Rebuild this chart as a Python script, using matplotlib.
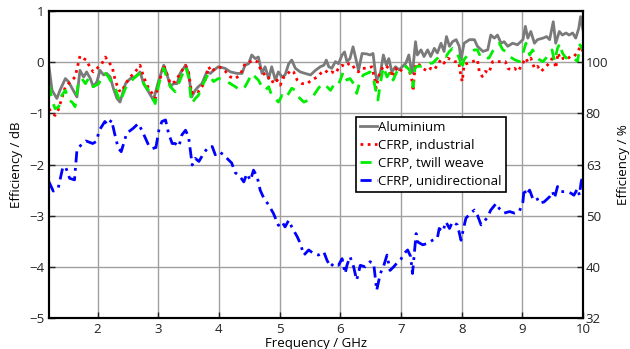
import matplotlib
matplotlib.use("Agg")
import matplotlib.pyplot as plt

plt.rcParams['font.family'] = ['Open Sans', 'DejaVu Sans']
plt.rcParams['axes.unicode_minus'] = True

# Aluminium reference plate
f_alu = [1.20, 1.25, 1.33, 1.38, 1.47, 1.52, 1.58, 1.66, 1.71, 1.77, 1.82, 1.88, 1.93, 1.99,
         2.04, 2.10, 2.15, 2.21, 2.26, 2.32, 2.37, 2.46, 2.54, 2.62, 2.70, 2.76, 2.84, 2.92,
         3.01, 3.09, 3.14, 3.20, 3.25, 3.31, 3.36, 3.45, 3.50, 3.55, 3.61, 3.66, 3.72, 3.80, 3.86, 3.91, 3.99,
         4.10, 4.19, 4.30, 4.38, 4.43, 4.49, 4.54, 4.60, 4.65, 4.71, 4.76, 4.82, 4.87, 4.93, 4.98,
         5.04, 5.09, 5.15, 5.20, 5.26, 5.34, 5.42, 5.51, 5.59, 5.67, 5.73, 5.77, 5.81, 5.86, 5.92, 5.97,
         6.03, 6.07, 6.11, 6.16, 6.21, 6.25, 6.30, 6.36, 6.44, 6.49, 6.54, 6.58, 6.60, 6.66, 6.71, 6.76, 6.80, 6.85, 6.91, 6.97,
         7.03, 7.08, 7.13, 7.16, 7.19, 7.24, 7.27, 7.33, 7.38, 7.44, 7.49, 7.55, 7.60, 7.66, 7.71, 7.75, 7.80, 7.85, 7.91, 7.96, 7.99,
         8.04, 8.13, 8.21, 8.26, 8.35, 8.43, 8.48, 8.54, 8.59, 8.65, 8.70, 8.76, 8.84, 8.92,
         9.01, 9.05, 9.09, 9.14, 9.20, 9.25, 9.34, 9.40, 9.45, 9.51, 9.55, 9.61, 9.66, 9.72, 9.77, 9.83, 9.88, 9.93, 9.96, 10.00]
eff_alu = [-0.09, -0.55, -0.71, -0.55, -0.32, -0.38, -0.51, -0.68, -0.16, -0.29, -0.19, -0.32, -0.48, -0.38,
           -0.16, -0.25, -0.22, -0.29, -0.51, -0.71, -0.78, -0.42, -0.32, -0.29, -0.19, -0.42, -0.58, -0.74,
           -0.35, -0.06, -0.22, -0.48, -0.42, -0.42, -0.22, -0.06, -0.22, -0.68, -0.55, -0.48, -0.42, -0.19, -0.22, -0.16, -0.09,
           -0.12, -0.19, -0.22, -0.22, -0.06, -0.03, 0.14, 0.07, 0.10, -0.22, -0.09, -0.32, -0.09, -0.35, -0.19,
           -0.29, -0.25, -0.03, 0.04, -0.12, -0.19, -0.22, -0.25, -0.16, -0.09, -0.06, 0.04, -0.09, -0.12, 0.01, -0.03,
           0.14, 0.20, 0.01, 0.07, 0.30, 0.10, -0.16, 0.17, 0.16, 0.14, 0.17, -0.22, -0.35, -0.22, 0.14, -0.06, 0.07, -0.19, -0.09, -0.15,
           -0.08, -0.02, 0.14, -0.08, -0.21, 0.40, 0.14, 0.24, 0.11, 0.24, 0.11, 0.27, 0.18, 0.37, 0.21, 0.50, 0.31, 0.40, 0.44, 0.31, 0.05,
           0.37, 0.44, 0.44, 0.31, 0.21, 0.24, 0.53, 0.47, 0.53, 0.37, 0.40, 0.31, 0.37, 0.34,
           0.44, 0.70, 0.47, 0.60, 0.37, 0.44, 0.47, 0.50, 0.44, 0.79, 0.37, 0.60, 0.53, 0.57, 0.53, 0.57, 0.47, 0.66, 0.89, 0.63]

# CFRP, industrial
f_ind = [1.20, 1.25, 1.30, 1.36, 1.41, 1.47, 1.52, 1.58, 1.63, 1.68, 1.71, 1.77, 1.82, 1.88, 1.93,
         2.02, 2.07, 2.13, 2.18, 2.24, 2.29, 2.35, 2.40, 2.46, 2.54, 2.62, 2.70, 2.76, 2.84, 2.90, 2.95,
         3.01, 3.09, 3.14, 3.20, 3.28, 3.36, 3.45, 3.50, 3.55, 3.61, 3.66, 3.72, 3.77, 3.83, 3.88, 3.94,
         4.02, 4.10, 4.19, 4.27, 4.35, 4.43, 4.52, 4.57, 4.63, 4.68, 4.74, 4.79, 4.85, 4.90, 4.96,
         5.01, 5.07, 5.12, 5.18, 5.23, 5.29, 5.37, 5.45, 5.53, 5.62, 5.70, 5.75, 5.81, 5.86, 5.92, 5.97,
         6.03, 6.08, 6.14, 6.19, 6.25, 6.30, 6.36, 6.44, 6.52, 6.57, 6.59, 6.63, 6.69, 6.74, 6.80, 6.85, 6.91, 6.97,
         7.03, 7.08, 7.14, 7.18, 7.20, 7.22, 7.25, 7.30, 7.36, 7.44, 7.49, 7.55, 7.60, 7.66, 7.71, 7.77, 7.82, 7.88, 7.95, 7.99,
         8.01, 8.04, 8.10, 8.18, 8.26, 8.29, 8.34, 8.39, 8.45, 8.51, 8.57, 8.65, 8.72, 8.76, 8.81, 8.87, 8.93,
         9.01, 9.05, 9.09, 9.14, 9.20, 9.25, 9.31, 9.36, 9.42, 9.47, 9.51, 9.55, 9.59, 9.63, 9.68, 9.73, 9.79, 9.85, 9.90, 9.96, 10.00]
eff_ind = [-0.91, -1.00, -1.04, -0.91, -0.71, -0.48, -0.42, -0.35, -0.29, -0.03, 0.12, 0.07, 0.04, -0.12, -0.19,
           -0.09, -0.03, 0.10, 0.01, -0.09, -0.35, -0.55, -0.58, -0.42, -0.29, -0.19, -0.06, -0.29, -0.51, -0.61, -0.71,
           -0.42, -0.06, -0.22, -0.42, -0.38, -0.22, -0.06, -0.19, -0.61, -0.55, -0.58, -0.48, -0.38, -0.09, -0.19, -0.12,
           -0.10, -0.17, -0.29, -0.32, -0.25, -0.03, 0.01, 0.04, 0.01, -0.12, -0.22, -0.32, -0.29, -0.42, -0.35,
           -0.45, -0.29, -0.25, -0.16, -0.19, -0.35, -0.42, -0.42, -0.35, -0.29, -0.19, -0.16, -0.22, -0.19, -0.22, -0.12,
           -0.06, -0.09, -0.03, -0.03, -0.16, -0.19, -0.12, -0.12, -0.09, -0.35, -0.51, -0.29, -0.12, -0.06, -0.12, -0.29, -0.12, -0.20,
           -0.12, -0.08, -0.18, -0.35, -0.57, -0.25, -0.02, -0.05, -0.12, -0.18, -0.12, -0.15, -0.05, 0.05, -0.02, 0.08, 0.05, 0.01, 0.01, -0.28,
           -0.38, -0.05, -0.02, 0.01, 0.05, -0.18, -0.28, -0.18, -0.21, 0.01, 0.01, 0.01, 0.01, -0.12, -0.15, -0.12, -0.18,
           -0.02, 0.08, 0.01, 0.08, -0.12, -0.08, -0.18, -0.12, -0.05, 0.01, 0.14, -0.12, 0.18, 0.05, 0.08, 0.05, 0.11, 0.11, 0.18, 0.31, 0.21]

# CFRP, twill weave
f_twill = [1.20, 1.25, 1.30, 1.36, 1.41, 1.47, 1.52, 1.58, 1.63, 1.69, 1.74, 1.80, 1.85, 1.93,
           2.02, 2.07, 2.13, 2.18, 2.24, 2.29, 2.37, 2.46, 2.54, 2.62, 2.70, 2.76, 2.84, 2.90, 2.95,
           3.01, 3.09, 3.14, 3.20, 3.28, 3.36, 3.45, 3.50, 3.55, 3.61, 3.66, 3.72, 3.77, 3.83, 3.91, 3.99,
           4.05, 4.12, 4.19, 4.27, 4.35, 4.43, 4.49, 4.54, 4.60, 4.65, 4.71, 4.76, 4.82, 4.87, 4.93, 4.98,
           5.04, 5.09, 5.15, 5.20, 5.26, 5.31, 5.40, 5.48, 5.56, 5.64, 5.70, 5.78, 5.84, 5.89, 5.95,
           6.00, 6.05, 6.11, 6.16, 6.22, 6.27, 6.33, 6.38, 6.44, 6.49, 6.54, 6.59, 6.62, 6.66, 6.71, 6.77, 6.82, 6.87, 6.93, 6.97,
           7.03, 7.08, 7.14, 7.18, 7.20, 7.23, 7.27, 7.33, 7.38, 7.47, 7.52, 7.58, 7.63, 7.69, 7.74, 7.80, 7.85, 7.91, 7.97,
           8.00, 8.04, 8.10, 8.15, 8.21, 8.26, 8.32, 8.39, 8.45, 8.51, 8.57, 8.62, 8.68, 8.73, 8.79, 8.87, 8.95,
           9.01, 9.06, 9.12, 9.17, 9.23, 9.28, 9.34, 9.39, 9.45, 9.49, 9.53, 9.58, 9.62, 9.66, 9.72, 9.79, 9.85, 9.91, 9.95, 10.00]
eff_twill = [-0.45, -0.74, -0.91, -0.87, -0.65, -0.55, -0.74, -0.78, -0.87, -0.35, -0.32, -0.42, -0.32, -0.48,
             -0.42, -0.29, -0.22, -0.29, -0.42, -0.51, -0.78, -0.51, -0.38, -0.29, -0.22, -0.42, -0.55, -0.68, -0.81,
             -0.42, -0.12, -0.29, -0.48, -0.58, -0.35, -0.09, -0.29, -0.81, -0.71, -0.65, -0.48, -0.35, -0.22, -0.38, -0.32,
             -0.33, -0.37, -0.42, -0.48, -0.55, -0.48, -0.35, -0.22, -0.29, -0.35, -0.48, -0.55, -0.48, -0.65, -0.71, -0.78,
             -0.65, -0.71, -0.61, -0.51, -0.55, -0.68, -0.78, -0.74, -0.65, -0.51, -0.42, -0.48, -0.55, -0.45, -0.48,
             -0.35, -0.19, -0.35, -0.32, -0.42, -0.61, -0.35, -0.25, -0.22, -0.19, -0.29, -0.58, -0.74, -0.42, -0.09, -0.29, -0.19, -0.35, -0.19, -0.15,
             -0.12, -0.08, -0.15, -0.31, -0.48, -0.12, -0.08, -0.08, -0.05, -0.02, -0.02, 0.05, 0.11, 0.14, 0.11, 0.21, 0.27, 0.21, 0.05,
             -0.15, 0.05, 0.14, 0.18, 0.24, 0.24, 0.08, 0.08, 0.08, 0.21, 0.31, 0.37, 0.24, 0.21, 0.11, 0.05, 0.01,
             0.18, 0.37, 0.14, 0.24, 0.11, 0.05, 0.01, 0.08, 0.18, 0.24, 0.01, 0.27, 0.37, 0.18, 0.08, 0.11, 0.08, 0.01, 0.34, 0.24]

# CFRP, unidirectional
f_uni = [1.20, 1.27, 1.35, 1.43, 1.48, 1.54, 1.62, 1.66, 1.70, 1.81, 1.92, 1.98,
         2.03, 2.12, 2.17, 2.23, 2.28, 2.34, 2.39, 2.48, 2.59, 2.67, 2.73, 2.78, 2.84, 2.92, 2.95,
         3.01, 3.06, 3.12, 3.17, 3.23, 3.28, 3.34, 3.39, 3.45, 3.50, 3.56, 3.61, 3.67, 3.75, 3.83, 3.89, 3.94,
         4.00, 4.08, 4.15, 4.21, 4.27, 4.35, 4.41, 4.46, 4.52, 4.57, 4.63, 4.68, 4.74, 4.82, 4.90, 4.98,
         5.04, 5.09, 5.15, 5.20, 5.29, 5.34, 5.40, 5.48, 5.56, 5.64, 5.73, 5.78, 5.84, 5.89, 5.97,
         6.03, 6.08, 6.11, 6.16, 6.22, 6.27, 6.33, 6.41, 6.49, 6.55, 6.60, 6.66, 6.71, 6.77, 6.82, 6.88, 6.93,
         7.00, 7.05, 7.11, 7.16, 7.19, 7.22, 7.25, 7.27, 7.36, 7.44, 7.52, 7.60, 7.63, 7.69, 7.74, 7.80, 7.85, 7.93, 7.99,
         8.02, 8.07, 8.15, 8.21, 8.26, 8.32, 8.37, 8.43, 8.48, 8.57, 8.62, 8.70, 8.79, 8.87, 8.95,
         9.01, 9.03, 9.06, 9.12, 9.17, 9.23, 9.28, 9.36, 9.45, 9.50, 9.53, 9.58, 9.64, 9.72, 9.80, 9.85, 9.91, 9.94, 9.97, 10.00]
eff_uni = [-2.34, -2.52, -2.47, -2.04, -2.07, -2.27, -2.30, -1.72, -1.65, -1.54, -1.59, -1.55,
           -1.33, -1.16, -1.23, -1.13, -1.39, -1.68, -1.75, -1.39, -1.29, -1.20, -1.33, -1.46, -1.62, -1.65, -1.75,
           -1.33, -1.16, -1.13, -1.39, -1.59, -1.59, -1.65, -1.42, -1.33, -1.46, -2.01, -1.88, -1.94, -1.78, -1.65, -1.65, -1.81,
           -1.75, -1.81, -1.90, -1.97, -2.16, -2.24, -2.34, -2.18, -2.31, -2.11, -2.24, -2.50, -2.66, -2.79, -2.96, -3.19,
           -3.12, -3.22, -3.09, -3.22, -3.41, -3.54, -3.77, -3.67, -3.74, -3.77, -3.71, -3.87, -4.00, -3.93, -3.97,
           -3.84, -4.13, -3.97, -3.80, -4.00, -4.26, -3.97, -4.00, -3.90, -3.93, -4.46, -4.13, -4.00, -3.77, -4.07, -4.00, -3.93,
           -3.85, -3.74, -3.67, -3.80, -4.13, -3.74, -3.35, -3.51, -3.57, -3.54, -3.48, -3.44, -3.25, -3.31, -3.12, -3.25, -3.12, -3.18, -3.48,
           -3.31, -3.05, -2.95, -2.89, -2.99, -3.18, -3.12, -3.02, -2.89, -2.76, -2.86, -2.95, -2.92, -2.95, -2.92,
           -2.73, -2.47, -2.60, -2.50, -2.66, -2.63, -2.76, -2.73, -2.63, -2.53, -2.66, -2.43, -2.53, -2.53, -2.56, -2.60, -2.47, -2.60, -2.34, -2.21]

x_ticks = [2, 3, 4, 5, 6, 7, 8, 9, 10]
db_ticks = [1, 0, -1, -2, -3, -4, -5]
pct_ticks = [0, -1, -2, -3, -4, -5]
pct_labels = ['100', '80', '63', '50', '40', '32']

fig = plt.figure(figsize=(6.30, 3.49), dpi=100)
ax = fig.add_axes([0.0778, 0.0888, 0.8476, 0.8797])

ax.plot(f_alu, eff_alu, color='#7a7a7a', lw=2.0, ls='-', label='Aluminium', zorder=3)
ax.plot(f_ind, eff_ind, color='#ff0000', lw=2.0, ls=(0, (1, 1.6)), label='CFRP, industrial', zorder=4)
ax.plot(f_twill, eff_twill, color='#00ee00', lw=2.0, ls=(0, (4, 3)), label='CFRP, twill weave', zorder=5)
ax.plot(f_uni, eff_uni, color='#0000ff', lw=2.0, ls=(0, (4, 2, 1, 2)), label='CFRP, unidirectional', zorder=6)

ax.set_xlim(1.2, 10)
ax.set_ylim(-5, 1)
ax.set_xticks(x_ticks)
ax.set_yticks(db_ticks)
ax.grid(True, color='#a0a0a0', lw=1.0)
ax.set_axisbelow(True)
ax.tick_params(direction='in', labelsize=9.5, length=4, width=1, colors='#222222')
for s in ax.spines.values():
    s.set_linewidth(1.5)
    s.set_color('black')
ax.set_xlabel('Frequency / GHz', fontsize=9.5, labelpad=1)
ax.set_ylabel('Efficiency / dB', fontsize=9.5, labelpad=4)

ax2 = ax.twinx()
ax2.set_ylim(-5, 1)
ax2.set_yticks(pct_ticks)
ax2.set_yticklabels(pct_labels)
ax2.tick_params(direction='in', labelsize=9.5, length=4, width=1, pad=2, colors='#222222')
ax2.set_ylabel('Efficiency / %', fontsize=9.5, labelpad=6)
for s in ax2.spines.values():
    s.set_linewidth(1.5)

leg = ax.legend(loc='upper left', bbox_to_anchor=(0.575, 0.655), fontsize=9.5,
                handlelength=1.3, handletextpad=0.1, borderpad=0.3, labelspacing=0.38,
                borderaxespad=0, fancybox=False, framealpha=1, edgecolor='black')
leg.get_frame().set_linewidth(1.2)

fig.savefig('out.png', dpi=100)
